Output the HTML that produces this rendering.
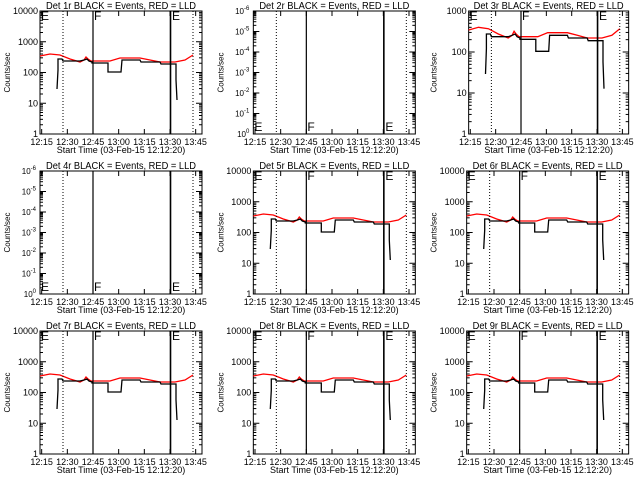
<!DOCTYPE html>
<html><head><meta charset="utf-8"><style>
html,body{margin:0;padding:0;background:#fff;}
svg{display:block;}
text{font-family:"Liberation Sans",sans-serif;fill:#000;}
</style></head><body>
<svg id="s" width="640" height="480" viewBox="0 0 640 480" xmlns="http://www.w3.org/2000/svg"></svg>
<script>
var S=document.getElementById('s'),h='';
var red=[[40,56],[50,54],[60,55],[70,59],[80,62],[84,60],[86,57],[88,59],[91,61],[110,61],[120,58],[140,58],[150,60],[160,62],[175,62],[185,60],[193,55]];
var blk=[[57,89],[58,70],[58,59],[62,59],[63,61],[80,61],[84,60],[87,59],[89,61],[92,62],[92,63],[108,63],[108,72],[121,72],[122,60],[140,60],[141,62],[160,62],[161,64],[176,64],[176,80],[177,100]];
function lg(y){return (134-y)/30.75;}
var panels=[
 [0,0,'1',4,1],[1,0,'2',0,0],[2,0,'3',3,1],
 [0,1,'4',0,0],[1,1,'5',4,1],[2,1,'6',4,1],
 [0,2,'7',4,1],[1,2,'8',4,1],[2,2,'9',4,1]];
var xt=['12:15','12:30','12:45','13:00','13:15','13:30','13:45'];
panels.forEach(function(p){
 var ox=p[0]*213.33,oy=p[1]*160;
 var L=ox+(p[3]==3?42:40),R=ox+202,T=oy+11,B=oy+134;
 var fx=function(x){return L+(x-40)/(162)*(R-L);};
 h+='<text x="'+((L+R)/2)+'" y="'+(oy+9)+'" font-size="10" text-anchor="middle" textLength="150" lengthAdjust="spacingAndGlyphs">Det '+p[2]+'r BLACK = Events, RED = LLD</text>';
 h+='<rect x="'+L+'" y="'+T+'" width="'+(R-L)+'" height="'+(B-T)+'" fill="none" stroke="#000" stroke-width="1"/>';
 for(var i=0;i<7;i++){var t=i*15+2.67,x=fx(37.1+t*1.711);
  h+='<line x1="'+x+'" y1="'+B+'" x2="'+x+'" y2="'+(B-5)+'" stroke="#000"/><line x1="'+x+'" y1="'+T+'" x2="'+x+'" y2="'+(T+5)+'" stroke="#000"/>';
  h+='<text x="'+x+'" y="'+(B+11)+'" font-size="9" text-anchor="middle">'+xt[i]+'</text>';}
 h+='<text x="'+((L+R)/2)+'" y="'+(B+19)+'" font-size="9" text-anchor="middle">Start Time (03-Feb-15 12:12:20)</text>';
 h+='<text transform="translate('+(ox+10)+','+((T+B)/2)+') rotate(-90)" font-size="8" text-anchor="middle">Counts/sec</text>';
 if(p[4]){var nd=p[3],dy=(B-T)/nd;
  for(var d=0;d<=nd;d++){var y=B-d*dy;
   h+='<text x="'+(L-2)+'" y="'+(y+3)+'" font-size="9" text-anchor="end">'+Math.pow(10,d)+'</text>';
   h+='<line x1="'+L+'" y1="'+y+'" x2="'+(L+6)+'" y2="'+y+'" stroke="#000"/><line x1="'+R+'" y1="'+y+'" x2="'+(R-6)+'" y2="'+y+'" stroke="#000"/>';
   if(d<nd)for(var m=2;m<10;m++){var ym=y-Math.log10(m)*dy;
    h+='<line x1="'+L+'" y1="'+ym+'" x2="'+(L+3)+'" y2="'+ym+'" stroke="#000"/><line x1="'+R+'" y1="'+ym+'" x2="'+(R-3)+'" y2="'+ym+'" stroke="#000"/>';}}
  var f=function(a){return a.map(function(q){var v=lg(q[1]);return fx(q[0]).toFixed(1)+','+(B-v*dy).toFixed(1);}).join(' ');};
  h+='<polyline points="'+f(red)+'" fill="none" stroke="#f00" stroke-width="1.3"/>';
  h+='<polyline points="'+f(blk)+'" fill="none" stroke="#000" stroke-width="1.3"/>';
 } else {
  var lab=['0','-1','-2','-3','-4','-5','-6'],dy=(B-T)/6;
  for(var d=0;d<=6;d++){var y=B-d*dy;
   h+='<text x="'+(L-4)+'" y="'+(y+3)+'" font-size="8" text-anchor="end">10<tspan dy="-4" font-size="6">'+lab[d]+'</tspan></text>';
   h+='<line x1="'+L+'" y1="'+y+'" x2="'+(L+6)+'" y2="'+y+'" stroke="#000"/><line x1="'+R+'" y1="'+y+'" x2="'+(R-6)+'" y2="'+y+'" stroke="#000"/>';
   if(d<6)for(var m=2;m<10;m++){var ym=y-Math.log10(m)*dy;
    h+='<line x1="'+L+'" y1="'+ym+'" x2="'+(L+3)+'" y2="'+ym+'" stroke="#000"/><line x1="'+R+'" y1="'+ym+'" x2="'+(R-3)+'" y2="'+ym+'" stroke="#000"/>';}}
 }
 [63,193].forEach(function(v){var x=fx(v);h+='<line x1="'+x+'" y1="'+T+'" x2="'+x+'" y2="'+B+'" stroke="#000" stroke-dasharray="1,2"/>';});
 [[93,1.2],[170.5,1.6]].forEach(function(v){var x=fx(v[0]);h+='<line x1="'+x+'" y1="'+T+'" x2="'+x+'" y2="'+B+'" stroke="#000" stroke-width="'+v[1]+'"/>';});
 var ly=p[4]?T+9:B-3;
 [[41,'E'],[94,'F'],[172,'E']].forEach(function(m){h+='<text x="'+fx(m[0])+'" y="'+ly+'" font-size="12">'+m[1]+'</text>';});
});
S.innerHTML=h;
</script>
</body></html>
